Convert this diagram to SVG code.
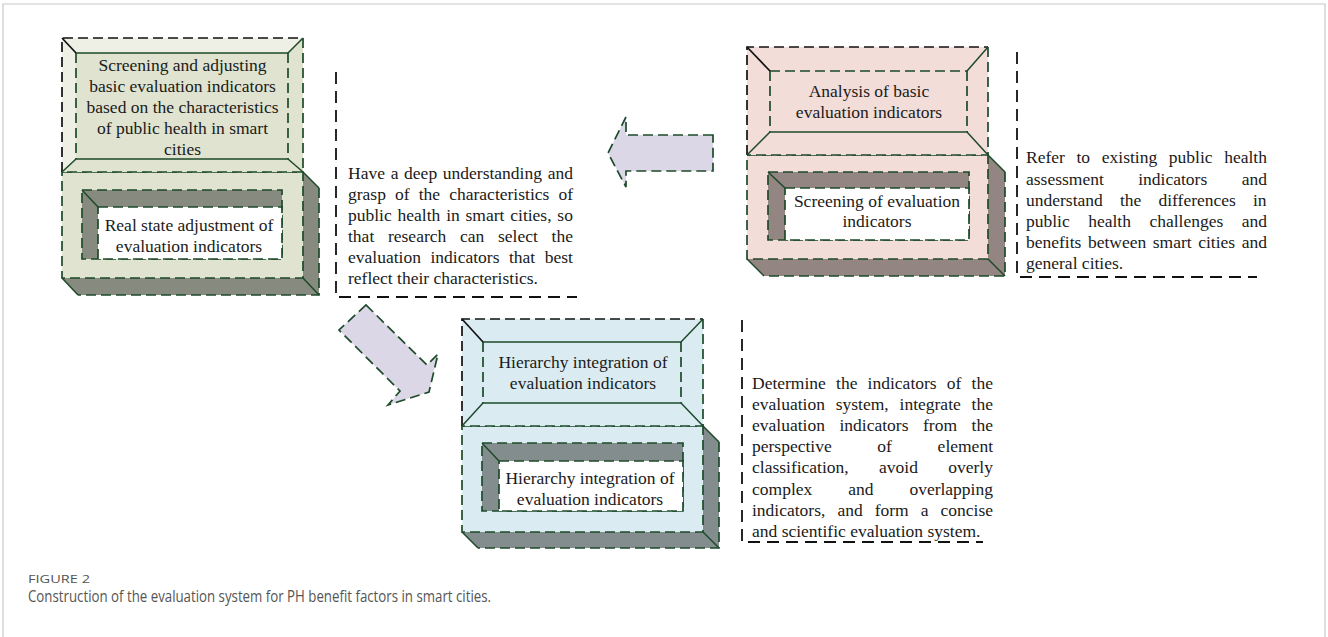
<svg xmlns="http://www.w3.org/2000/svg" width="1328" height="637" viewBox="0 0 1328 637">
<style>
.nf{fill:none}
.gd{stroke:#1d4a2a;stroke-width:1.7;stroke-dasharray:10 5}
.gs{stroke:#1d4a2a;stroke-width:1.5;fill:none}
.bd{stroke:#111;stroke-width:1.7;stroke-dasharray:10 5}
.bk{stroke:#111;stroke-width:1.7}
.tb{fill:none;stroke:#111;stroke-width:1.8;stroke-dasharray:12 7}
.t{font-family:"Liberation Serif","Times New Roman",serif;font-size:17.5px;fill:#1a1a1a}
.c{text-anchor:middle}
.arrow{fill:#dcd7e6;stroke:#1d4a2a;stroke-width:1.7;stroke-dasharray:10 5}
</style>
<rect width="1328" height="637" fill="#fff"/>
<path d="M3,637 V4 H1325 V637" fill="none" stroke="#c8c8c8" stroke-width="1.2"/>

<!-- Green node -->
<g id="node-screening-adjusting">
  <polygon points="303,172 319,188 319,295 78,295 62,278 303,278" fill="#878a7e"/>
  <path class="gd nf" d="M319,188 V295 H78"/>
  <path class="gs" d="M303,172 L319,188 M62,278 L78,295 M303,278 L319,295"/>
  <rect x="62" y="172" width="241" height="106" fill="#dfe3cf" class="gd"/>
  <rect x="82" y="190" width="200" height="69" fill="#878a7e" class="gd"/>
  <rect x="98" y="207" width="184" height="52" fill="#fff" class="gd"/>
  <line x1="82" y1="190" x2="98" y2="207" class="gs"/>
  <rect x="62" y="38" width="241" height="134" fill="#eef0e6"/>
  <polygon points="303,38 303,172 288,159 288,53" fill="#dfe3cf"/>
  <polygon points="62,172 303,172 288,159 76,159" fill="#dfe3cf"/>
  <rect x="76" y="53" width="212" height="106" fill="#dfe3cf"/>
  <path class="bd nf" d="M62,172 V38 H303"/>
  <path class="gd nf" d="M303,38 V172 H62"/>
  <path class="gs" d="M76,53 H288 M76,159 H288"/>
  <path class="gd nf" d="M76,53 V159 M288,53 V159"/>
  <line class="bk" x1="62" y1="38" x2="76" y2="53"/>
  <path class="gs" d="M303,38 L288,53 M62,172 L76,159 M288,159 L303,172"/>
  <text class="t c" x="182.5" y="70.7">Screening and adjusting</text>
  <text class="t c" x="182.5" y="91.7">basic evaluation indicators</text>
  <text class="t c" x="182.5" y="112.7">based on the characteristics</text>
  <text class="t c" x="182.5" y="133.7">of public health in smart</text>
  <text class="t c" x="182.5" y="154.7">cities</text>
  <text class="t c" x="189" y="230.7">Real state adjustment of</text>
  <text class="t c" x="189" y="251.7">evaluation indicators</text>
</g>

<!-- Pink node -->
<g id="node-analysis">
  <polygon points="988,155 1005,172 1005,276 764,276 747,259 988,259" fill="#938581"/>
  <path class="gd nf" d="M1005,172 V276 H764"/>
  <path class="gs" d="M988,155 L1005,172 M747,259 L764,276 M988,259 L1005,276"/>
  <rect x="747" y="155" width="241" height="104" fill="#f2ddd9" class="gd"/>
  <rect x="768" y="172" width="201" height="68" fill="#938581" class="gd"/>
  <rect x="785" y="188" width="184" height="52" fill="#fff" class="gd"/>
  <line x1="768" y1="172" x2="785" y2="188" class="gs"/>
  <rect x="747" y="47" width="241" height="108" fill="#f2ddd9"/>
  <path class="bd nf" d="M747,155 V47 H988"/>
  <path class="gd nf" d="M988,47 V155 H747"/>
  <path class="gd nf" d="M770,71 H967"/>
  <path class="gs" d="M770,132 H967"/>
  <path class="gd nf" d="M770,71 V132 M967,71 V132"/>
  <line class="bk" x1="747" y1="47" x2="770" y2="71"/>
  <path class="gs" d="M988,47 L967,71 M747,155 L770,132 M967,132 L988,155"/>
  <text class="t c" x="869" y="96.7">Analysis of basic</text>
  <text class="t c" x="869" y="117.5">evaluation indicators</text>
  <text class="t c" x="877" y="206.5">Screening of evaluation</text>
  <text class="t c" x="877" y="227">indicators</text>
</g>

<!-- Blue node -->
<g id="node-hierarchy">
  <polygon points="703,426 719,442 719,548 478,548 462,532 703,532" fill="#848d8e"/>
  <path class="gd nf" d="M719,442 V548 H478"/>
  <path class="gs" d="M703,426 L719,442 M462,532 L478,548 M703,532 L719,548"/>
  <rect x="462" y="426" width="241" height="106" fill="#daecf2" class="gd"/>
  <rect x="482" y="443" width="201" height="68" fill="#848d8e" class="gd"/>
  <rect x="499" y="461" width="184" height="50" fill="#fff" class="gd"/>
  <line x1="482" y1="443" x2="499" y2="461" class="gs"/>
  <rect x="462" y="319" width="241" height="107" fill="#daecf2"/>
  <path class="bd nf" d="M462,426 V319 H703"/>
  <path class="gd nf" d="M703,319 V426 H462"/>
  <path class="gs" d="M483,342 H681 M483,403 H681"/>
  <path class="gd nf" d="M483,342 V403 M681,342 V403"/>
  <line class="bk" x1="462" y1="319" x2="483" y2="342"/>
  <path class="gs" d="M703,319 L681,342 M462,426 L483,403 M681,403 L703,426"/>
  <text class="t c" x="583" y="368.3">Hierarchy integration of</text>
  <text class="t c" x="583" y="389.3">evaluation indicators</text>
  <text class="t c" x="590" y="484">Hierarchy integration of</text>
  <text class="t c" x="590" y="504.5">evaluation indicators</text>
</g>

<!-- Description boxes -->
<g id="note-characteristics">
  <path class="tb" d="M336,72 V297 H577"/>
  <text class="t" x="348" y="178.7" word-spacing="1.33">Have a deep understanding and</text>
  <text class="t" x="348" y="199.8" word-spacing="4.75">grasp of the characteristics of</text>
  <text class="t" x="348" y="220.8" word-spacing="1.44">public health in smart cities, so</text>
  <text class="t" x="348" y="241.9" word-spacing="9.35">that research can select the</text>
  <text class="t" x="348" y="263" word-spacing="5.17">evaluation indicators that best</text>
  <text class="t" x="348" y="284">reflect their characteristics.</text>
</g>

<g id="note-refer">
  <path class="tb" d="M1017,52 V277 H1257"/>
  <text class="t" x="1026" y="163.3" word-spacing="7.27">Refer to existing public health</text>
  <text class="t" x="1026" y="184.5" word-spacing="30.1">assessment indicators and</text>
  <text class="t" x="1026" y="205.7" word-spacing="12.77">understand the differences in</text>
  <text class="t" x="1026" y="226.9" word-spacing="14.07">public health challenges and</text>
  <text class="t" x="1026" y="248.1" word-spacing="2.17">benefits between smart cities and</text>
  <text class="t" x="1026" y="269.3">general cities.</text>
</g>

<g id="note-determine">
  <path class="tb" d="M742,320 V542 H983"/>
  <text class="t" x="752" y="389" word-spacing="5.82">Determine the indicators of the</text>
  <text class="t" x="752" y="410.1" word-spacing="6.46">evaluation system, integrate the</text>
  <text class="t" x="752" y="431.2" word-spacing="10.17">evaluation indicators from the</text>
  <text class="t" x="752" y="452.3" word-spacing="41.3">perspective of element</text>
  <text class="t" x="752" y="473.4" word-spacing="25.96">classification, avoid overly</text>
  <text class="t" x="752" y="494.5" word-spacing="31.56">complex and overlapping</text>
  <text class="t" x="752" y="515.6" word-spacing="7.65">indicators, and form a concise</text>
  <text class="t" x="752" y="536.7">and scientific evaluation system.</text>
</g>

<!-- Connectors -->
<g id="connectors">
  <polygon class="arrow" points="713,135 626,135 626,117 608,153 626,187 626,171 713,171"/>
  <polygon class="arrow" points="366,305 427,365 438,354 429,392 388,405 400,391 339,330"/>
</g>

<!-- Caption -->
<g id="caption">
  <text x="28" y="583.3" font-family="'Open Sans','Noto Sans',sans-serif" font-size="11.5" fill="#555" textLength="62" lengthAdjust="spacingAndGlyphs">FIGURE 2</text>
  <text x="28" y="601.7" font-family="'Open Sans','Noto Sans',sans-serif" font-size="16" fill="#555" textLength="463" lengthAdjust="spacingAndGlyphs">Construction of the evaluation system for PH benefit factors in smart cities.</text>
</g>
</svg>
